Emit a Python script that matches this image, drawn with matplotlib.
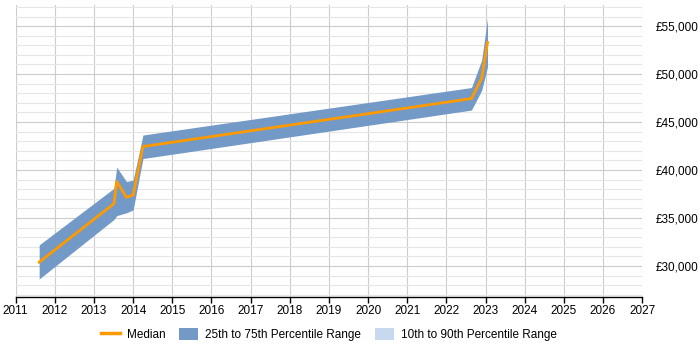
import matplotlib
matplotlib.use("Agg")
import matplotlib.pyplot as plt
from matplotlib.patches import Patch
from matplotlib.lines import Line2D
from matplotlib.ticker import MultipleLocator, FuncFormatter

# values
years = [2011.60, 2013.51, 2013.58, 2013.83, 2014.00, 2014.25, 2022.64, 2022.90, 2023.05]
median = [30400, 36500, 38800, 37150, 37400, 42450, 47450, 49550, 53300]
p25 = [28650, 34850, 35250, 35550, 35850, 41200, 46250, 48300, 50750]
p75 = [32200, 38100, 40300, 38800, 38950, 43650, 48600, 51450, 55800]
year_ticks = list(range(2011, 2028))

plt.rcParams['font.family'] = ['Liberation Sans', 'DejaVu Sans']

fig = plt.figure(figsize=(7, 3.5), dpi=100)
ax = fig.add_axes([0.0224, 0.1514, 0.895, 0.8343])

band = '#7399c6'
ax.fill_between(years, p25, p75, color=band, linewidth=0, zorder=2)
ax.plot(years, median, color='#ff9900', linewidth=2, zorder=3)

ax.set_xlim(2011, 2027)
ax.set_ylim(26770, 57200)
ax.set_xticks(year_ticks)
ax.yaxis.set_major_locator(MultipleLocator(5000))
ax.yaxis.set_minor_locator(MultipleLocator(1000))
ax.yaxis.set_major_formatter(FuncFormatter(lambda v, p: f'£{int(v):,}'))
ax.yaxis.tick_right()

ax.grid(True, which='major', color='#cccccc', linewidth=0.8, zorder=0)
ax.grid(True, which='minor', axis='y', color='#e6e6e6', linewidth=0.8, zorder=0)
ax.set_axisbelow(True)

for s in ['top', 'left', 'right']:
    ax.spines[s].set_visible(False)
ax.spines['bottom'].set_color('#000000')
ax.spines['bottom'].set_linewidth(1)

ax.tick_params(axis='x', length=4, width=1, labelsize=8.5, pad=2)
ax.tick_params(axis='y', which='both', length=0, labelsize=8.5, pad=10)

handles = [
    Line2D([], [], color='#ff9900', linewidth=2.5),
    Patch(facecolor='#7399c6'),
    Patch(facecolor='#c6d9ee'),
]
labels = ['Median', '25th to 75th Percentile Range', '10th to 90th Percentile Range']
fig.legend(handles, labels, loc='center', bbox_to_anchor=(0.47, 0.045), ncol=3,
           frameon=False, fontsize=8.5, handlelength=1.6, handleheight=1.2,
           columnspacing=1.2, handletextpad=0.6)

fig.savefig('out.png', dpi=100)
